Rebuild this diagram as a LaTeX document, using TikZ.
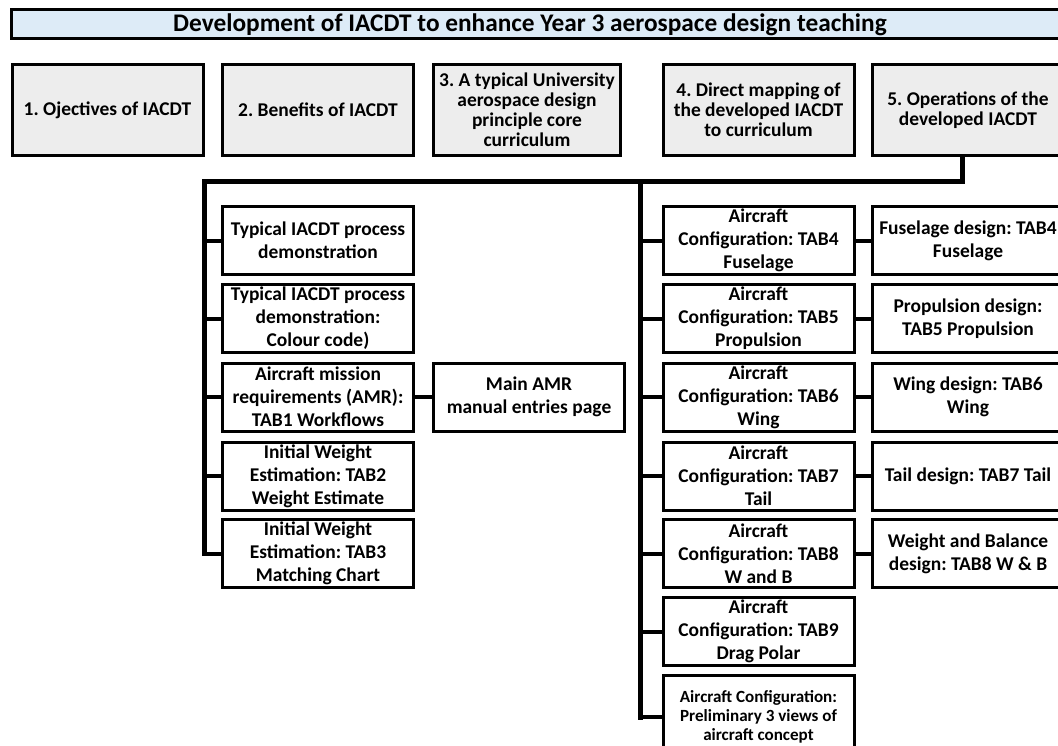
\documentclass[tikz,border=0pt]{standalone}
\usepackage{fontspec}
\setmainfont{Carlito}
\definecolor{titleblue}{HTML}{DDEBF7}
\definecolor{topgray}{HTML}{EDEDED}
\begin{document}
\frenchspacing
\begin{tikzpicture}[x=0.75pt,y=-0.75pt,
  basebox/.style={draw=black, line width=2.25pt, fill=white, inner sep=1pt, align=center,
    minimum width=143.25pt, minimum height=51pt,
    font=\bfseries\fontsize{14.6}{17.2}\selectfont},
  topbox/.style={basebox, fill=topgray, minimum height=68.25pt,
    font=\bfseries\fontsize{14.6}{15}\selectfont},
  smallbox/.style={basebox, font=\bfseries\fontsize{12.8}{14.5}\selectfont},
  bus/.style={line width=3.75pt, line cap=rect, line join=miter},
  stub/.style={line width=3pt}]
\useasboundingbox (0,0) rectangle (1058,746);
\clip (0,0) rectangle (1058,746);

% heading bar
\draw[line width=2.25pt, fill=titleblue] (11,9) rectangle (1075,38);
\node[font=\bfseries\fontsize{19}{22}\selectfont] (title) at (530,24.5) {Development of IACDT to enhance Year 3 aerospace design teaching};

% five top-level topics
\node[topbox] (b1) at (107.5,110) {1. Ojectives of IACDT};
\node[topbox] (b2) at (318,110) {2. Benefits of IACDT};
\node[topbox, minimum width=140.25pt] (b3) at (527,110) {3. A typical University\\aerospace design\\principle core\\curriculum};
\node[topbox] (b4) at (758.5,110) {4. Direct mapping of\\the developed IACDT\\to curriculum};
\node[topbox] (b5) at (968,110) {5. Operations of the\\developed IACDT};

% left branch
\node[basebox] (l1) at (318,240.5) {Typical IACDT process\\demonstration};
\node[basebox] (l2) at (318,318.5) {Typical IACDT process\\demonstration:\\Colour code)};
\node[basebox] (l3) at (318,397) {Aircraft mission\\requirements (AMR):\\TAB1 Workflows};
\node[basebox] (l4) at (318,476) {Initial Weight\\Estimation: TAB2\\Weight Estimate};
\node[basebox] (l5) at (318,553.5) {Initial Weight\\Estimation: TAB3\\Matching Chart};
\node[basebox] (amr) at (529,397) {Main AMR\\manual entries page};

% middle branch: aircraft configuration tabs
\node[basebox] (m1) at (758.5,240.5) {Aircraft\\Configuration: TAB4\\Fuselage};
\node[basebox] (m2) at (758.5,318.5) {Aircraft\\Configuration: TAB5\\Propulsion};
\node[basebox] (m3) at (758.5,397) {Aircraft\\Configuration: TAB6\\Wing};
\node[basebox] (m4) at (758.5,476) {Aircraft\\Configuration: TAB7\\Tail};
\node[basebox] (m5) at (758.5,553.5) {Aircraft\\Configuration: TAB8\\W and B};
\node[basebox] (m6) at (758.5,631.5) {Aircraft\\Configuration: TAB9\\Drag Polar};
\node[smallbox, minimum height=62pt] (m7) at (758.5,717) {Aircraft Configuration:\\Preliminary 3 views of\\aircraft concept};

% right branch: component design tabs
\node[basebox] (r1) at (968,240.5) {Fuselage design: TAB4\\Fuselage};
\node[basebox] (r2) at (968,318.5) {Propulsion design:\\TAB5 Propulsion};
\node[basebox] (r3) at (968,397) {Wing design: TAB6\\Wing};
\node[basebox] (r4) at (968,476) {Tail design: TAB7 Tail};
\node[basebox] (r5) at (968,553.5) {Weight and Balance\\design: TAB8 W \& B};

% bus and trunks
\coordinate (busR) at (962,181);
\coordinate (busL) at (204,181);
\coordinate (busM) at (640,181);
\draw[bus] (busR |- b5.south) -- (busR) -- (busL) -- (busL |- l5.west);
\draw[bus] (busM) -- (busM |- m7.west);

% stubs to the boxes
\foreach \n in {l1,l2,l3,l4,l5}
  \draw[stub] (busL |- \n.west) -- (\n.west);
\foreach \n in {m1,m2,m3,m4,m5,m6,m7}
  \draw[stub] (busM |- \n.west) -- (\n.west);
\draw[stub] (l3.east) -- (amr.west);
\draw[stub] (m1.east) -- (r1.west);
\draw[stub] (m2.east) -- (r2.west);
\draw[stub] (m3.east) -- (r3.west);
\draw[stub] (m4.east) -- (r4.west);
\draw[stub] (m5.east) -- (r5.west);
\end{tikzpicture}
\end{document}
